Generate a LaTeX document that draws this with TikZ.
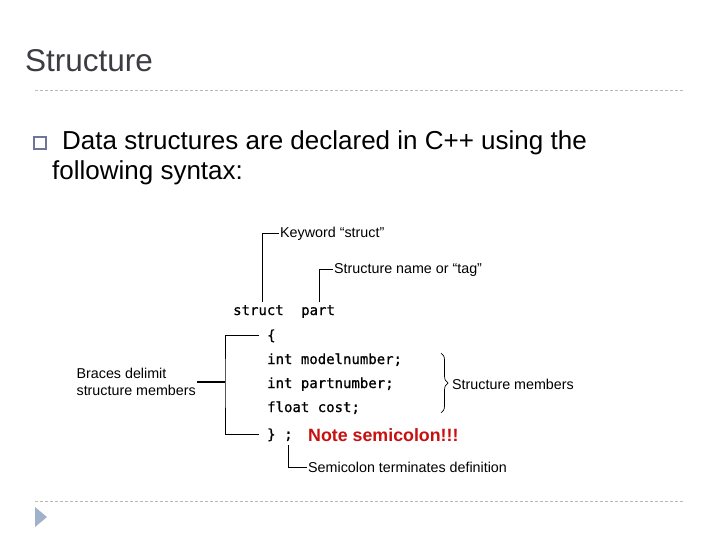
\documentclass[tikz,border=0pt]{standalone}
\usepackage{fontspec}
\setmainfont{Liberation Sans}
\newfontfamily\codefont{DejaVu Sans Mono}[FakeBold=0.8]
\usetikzlibrary{calc,decorations.pathreplacing}
\definecolor{TitleGray}{RGB}{60,60,66}
\definecolor{RuleGray}{RGB}{185,185,185}
\definecolor{BulletSlate}{RGB}{112,118,150}
\definecolor{NoteRed}{RGB}{200,16,16}
\definecolor{MarkerBlue}{RGB}{160,178,202}

\begin{document}
\begin{tikzpicture}[x=1pt,y=-1pt,
  note/.style={font=\fontsize{14.3}{16.5}\selectfont,inner sep=1pt,anchor=base west},
  code/.style={font=\fontsize{14}{16}\codefont,inner sep=0pt,anchor=base west},
  leader/.style={draw,line width=0.7pt},
  rule/.style={draw=RuleGray,line width=0.6pt,dash pattern=on 3pt off 2pt}]
\useasboundingbox[fill=white] (0,0) rectangle (720,540);

% slide frame
\node[anchor=base west,inner sep=0pt,text=TitleGray,font=\fontsize{31.5}{36}\selectfont] (title) at (25,72) {Structure};
\coordinate (ruleL) at (35,90);
\coordinate (ruleR) at (685,90);
\draw[rule] (ruleL) -- (ruleR);
\draw[BulletSlate,line width=1.2pt] (34,137) rectangle (46,149);
\node[anchor=base west,inner sep=0pt,font=\fontsize{26}{30}\selectfont] (intro) at (62,150) {Data structures are declared in C++ using the};
\node[anchor=base west,inner sep=0pt,font=\fontsize{26}{30}\selectfont] (intro2) at (52,180) {following syntax:};

% code lines
\node[code] (struct) at (233,315) {struct};
\node[code] (part) at (301,315) {part};
\node[code] (open) at (267,340) {\{};
\foreach \txt [count=\i] in {int modelnumber;,int partnumber;,float cost;}
  \node[code] (mem\i) at (267,340+24*\i) {\txt};
\node[code] (close) at (267,439) {\}};
\node[code] (semi) at (284,439) {;};

% labels
\node[note] (kw) at (279,237) {Keyword “struct”};
\node[note] (tag) at (333,273) {Structure name or “tag”};
\node[note,anchor=east,align=left] (braces) at (197,382) {Braces delimit\\structure members};
\node[note] (members) at (451,389) {Structure members};
\node[note,text=NoteRed,font=\fontsize{17.8}{20}\bfseries] (warn) at (307,441) {Note semicolon!!!};
\node[note] (semlbl) at (307,472) {Semicolon terminates definition};

% leaders
\draw[leader] (kw.west) -| ([xshift=4pt,yshift=3pt]struct.north);
\draw[leader] (tag.west) -| ([xshift=1pt,yshift=3pt]part.north);
\draw[leader] ([yshift=-4pt]semi.south) |- (semlbl.west);
\coordinate (bx) at (225,382);
\draw[leader] ([xshift=-8pt]open.west) -| (bx) |- ([xshift=-8pt]close.west);
\draw[line width=2.6pt] (braces.east) -- (bx);
\coordinate (brtop) at (441,353);
\coordinate (brbot) at (441,413);
\draw[leader,decorate,decoration={brace,amplitude=7pt}] (brtop) -- (brbot);

% footer
\draw[rule] (35,501) -- (685,501);
\fill[MarkerBlue] (35,507) -- (47,517) -- (35,527) -- cycle;
\end{tikzpicture}
\end{document}
